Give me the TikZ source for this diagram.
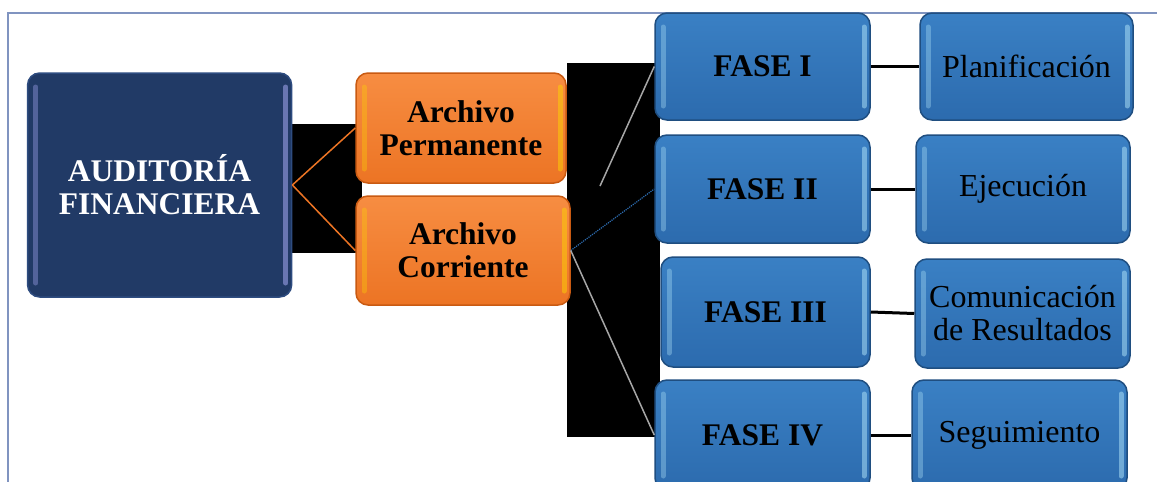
\documentclass[tikz,border=0pt]{standalone}
\usepackage{fontspec}
\setmainfont{Liberation Serif}
\usetikzlibrary{calc}
\definecolor{navy}{HTML}{213A66}
\definecolor{navyedge}{HTML}{2E4C80}
\definecolor{blueA}{HTML}{3A80C4}
\definecolor{blueB}{HTML}{2C6BAE}
\definecolor{blueedge}{HTML}{1F4E80}
\definecolor{orA}{HTML}{F78D42}
\definecolor{orB}{HTML}{EC7424}
\definecolor{oredge}{HTML}{C95A12}
\definecolor{frame}{HTML}{8094C0}
\tikzset{
  box/.style={rounded corners=12pt, inner sep=0pt, align=center, line width=1.5pt},
  bevel/.style={path picture={
      \draw[#1, line width=5pt, opacity=0.35, line cap=round]
        ([xshift=8pt,yshift=-14pt]path picture bounding box.north west)
        -- ([xshift=8pt,yshift=14pt]path picture bounding box.south west);
      \draw[#1, line width=5pt, opacity=0.5, line cap=round]
        ([xshift=-6pt,yshift=-14pt]path picture bounding box.north east)
        -- ([xshift=-6pt,yshift=14pt]path picture bounding box.south east);}},
  navybox/.style={box, fill=navy, draw=navyedge, text=white, bevel=blue!30!white, font=\fontsize{31.5}{33}\selectfont\bfseries},
  orbox/.style={box, top color=orA, bottom color=orB, draw=oredge, text=black, bevel=yellow!70!orange, font=\fontsize{31.5}{33}\selectfont\bfseries},
  fasebox/.style={box, top color=blueA, bottom color=blueB, draw=blueedge, text=black, bevel=cyan!30!white, font=\fontsize{31.5}{33}\selectfont\bfseries},
  descbox/.style={box, top color=blueA, bottom color=blueB, draw=blueedge, text=black, bevel=cyan!30!white, font=\fontsize{32}{33}\selectfont},
  orline/.style={draw=orB, line width=1.5pt},
  greyline/.style={draw=gray!70, line width=1.5pt},
  blueline/.style={draw=blueB, line width=1.2pt, densely dotted},
  blackline/.style={draw=black, line width=3pt},
  blackblock/.style={fill=black, draw=none}
}
\begin{document}
\begin{tikzpicture}[x=1pt, y=-1pt]
\useasboundingbox (0,0) rectangle (1157,482);
\clip (0,0) rectangle (1157,482);
\fill[white] (0,0) rectangle (1157,482);
% frame
\draw[frame, line width=1.5pt] (8,482) -- (8,13) -- (1157,13);
% black artefact blocks
\path[blackblock] (288,124) rectangle (362,253);
\path[blackblock] (567,63) rectangle (660,437);
% nodes
\node[navybox, minimum width=264pt, minimum height=224pt] (aud) at (159.6,185) {AUDITORÍA\\FINANCIERA};
\node[orbox, minimum width=210pt, minimum height=110pt] (ap) at (461,128) {Archivo\\Permanente};
\node[orbox, minimum width=214pt, minimum height=109pt] (ac) at (463,250.5) {Archivo\\Corriente};
\node[fasebox, minimum width=215pt, minimum height=107pt] (f1) at (762.5,66.5) {FASE I};
\node[fasebox, minimum width=215pt, minimum height=108pt] (f2) at (762.5,189) {FASE II};
\node[fasebox, minimum width=209pt, minimum height=110pt] (f3) at (765.5,312) {FASE III};
\node[fasebox, minimum width=215pt, minimum height=110pt] (f4) at (762.5,435) {FASE IV};
\node[descbox, minimum width=213pt, minimum height=107pt] (p1) at (1026.5,66.5) {Planificación};
\node[descbox, minimum width=214pt, minimum height=108pt] (p2) at (1023,189) {Ejecución};
\node[descbox, minimum width=215pt, minimum height=109pt] (p3) at (1022.5,313.5) {Comunicación\\de Resultados};
\node[descbox, minimum width=215pt, minimum height=110pt] (p4) at (1019.5,435) {Seguimiento};
% connectors
\draw[orline] (aud.east) -- (ap.west);
\draw[orline] (aud.east) -- (ac.west);
\draw[greyline] ($(ac.east)!0.35!(f1.west)$) -- (f1.west);
\draw[blueline] (ac.east) -- (f2.west);
\draw[greyline] (ac.east) -- (f4.west);
\draw[blackline] (f1.east) -- (p1.west);
\draw[blackline] (f2.east) -- (p2.west);
\draw[blackline] (f3.east) -- (p3.west);
\draw[blackline] (f4.east) -- (p4.west);
\end{tikzpicture}
\end{document}
